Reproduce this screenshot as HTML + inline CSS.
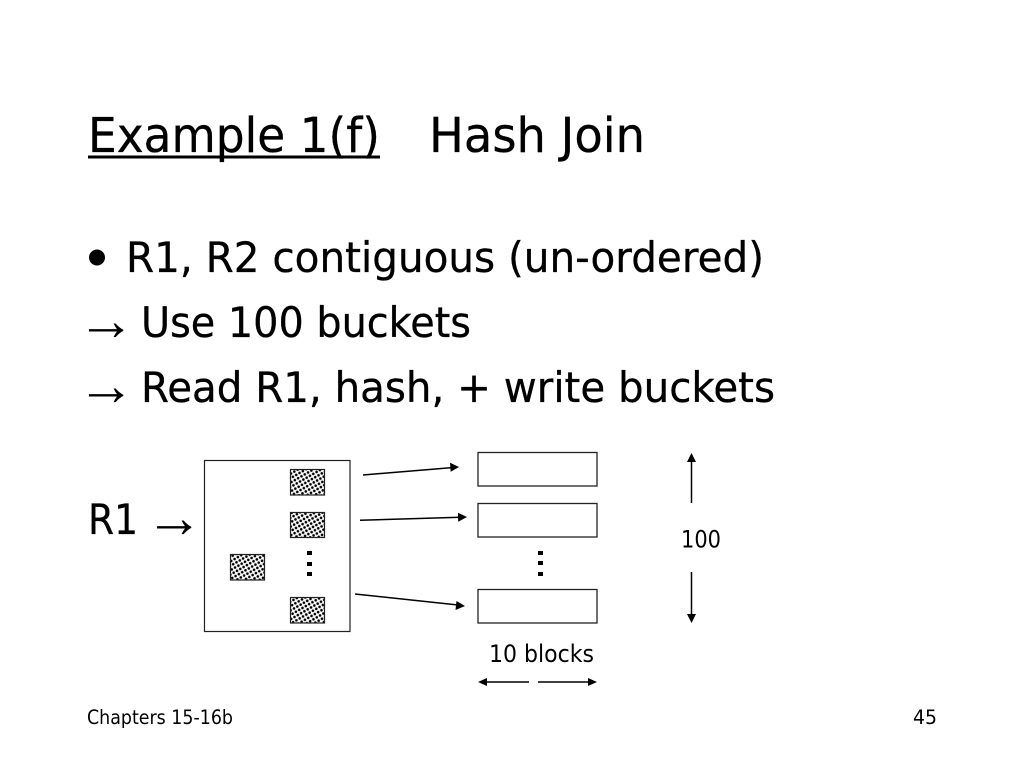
<!DOCTYPE html>
<html>
<head>
<meta charset="utf-8">
<style>
html,body{margin:0;padding:0;background:#fff;width:1024px;height:768px;overflow:hidden}
svg{display:block}
text{font-family:"DejaVu Sans","Liberation Sans",sans-serif;fill:#000}
.big{stroke:#000;stroke-width:.3}
.arr{font-family:"Liberation Serif",serif}
</style>
</head>
<body>
<svg width="1024" height="768" viewBox="0 0 1024 768" xmlns="http://www.w3.org/2000/svg">
<defs>
<pattern id="dots" width="5.4" height="5.4" patternUnits="userSpaceOnUse" patternTransform="rotate(15)">
<rect width="5.4" height="5.4" fill="#fff"/>
<circle cx="1.35" cy="1.35" r="1.3" fill="#000"/>
<circle cx="4.05" cy="4.05" r="1.3" fill="#000"/>
</pattern>
</defs>
<rect width="1024" height="768" fill="#fff"/>

<text class="big" x="88" y="152" font-size="48" textLength="292" lengthAdjust="spacingAndGlyphs">Example 1(f)</text>
<rect x="88" y="155.5" width="292" height="3" fill="#000"/>
<text class="big" x="429" y="152" font-size="48" textLength="216" lengthAdjust="spacingAndGlyphs">Hash Join</text>

<circle cx="97" cy="257.5" r="8" fill="#000"/>
<text class="big" x="126" y="272" font-size="42" textLength="638" lengthAdjust="spacingAndGlyphs">R1, R2 contiguous (un-ordered)</text>
<text class="arr" x="77" y="340" font-size="58" textLength="58" lengthAdjust="spacingAndGlyphs">→</text>
<text class="big" x="141" y="337" font-size="42" textLength="330" lengthAdjust="spacingAndGlyphs">Use 100 buckets</text>
<text class="arr" x="77" y="405" font-size="58" textLength="58" lengthAdjust="spacingAndGlyphs">→</text>
<text class="big" x="141" y="402" font-size="42" textLength="634" lengthAdjust="spacingAndGlyphs">Read R1, hash, + write buckets</text>
<text class="big" x="88" y="534" font-size="42" textLength="50" lengthAdjust="spacingAndGlyphs">R1</text>
<text class="arr" x="145" y="537" font-size="58" textLength="58" lengthAdjust="spacingAndGlyphs">→</text>

<rect x="204.5" y="460.5" width="145.5" height="171" fill="#fff" stroke="#222" stroke-width="1.2"/>

<g fill="url(#dots)" stroke="#222" stroke-width="1.2">
<rect x="290.5" y="469.5" width="34" height="25.5"/>
<rect x="290.5" y="512.5" width="34" height="25"/>
<rect x="290.5" y="597.5" width="34" height="25.5"/>
<rect x="230.5" y="554.5" width="34" height="25.5"/>
</g>

<g fill="#000">
<rect x="307" y="551" width="5" height="4"/>
<rect x="307" y="562" width="5" height="4"/>
<rect x="307" y="572" width="5" height="4"/>
<rect x="538" y="551" width="5" height="4"/>
<rect x="538" y="561" width="5" height="4"/>
<rect x="538" y="572" width="5" height="4"/>
</g>

<g stroke="#000" stroke-width="1.5" fill="none">
<line x1="363" y1="475" x2="452" y2="467.6"/>
<line x1="360" y1="520.3" x2="460" y2="517.3"/>
<line x1="355" y1="594" x2="458" y2="605"/>
<line x1="691.5" y1="460" x2="691.5" y2="503"/>
<line x1="691.5" y1="572" x2="691.5" y2="615"/>
<line x1="485" y1="682" x2="529" y2="682"/>
<line x1="538" y1="682" x2="590" y2="682"/>
</g>
<g fill="#000">
<polygon points="459,467 450,462.8 450.7,471.8"/>
<polygon points="467,517 458,512.8 458.2,521.8"/>
<polygon points="465,606 456.5,601 455.5,610"/>
<polygon points="691.5,453 687,462 696,462"/>
<polygon points="691.5,623 687,614 696,614"/>
<polygon points="478,682 487,678 487,686"/>
<polygon points="597,682 588,678 588,686"/>
</g>

<g fill="#fff" stroke="#222" stroke-width="1.3">
<rect x="478" y="452.5" width="119" height="33.5"/>
<rect x="478" y="503.5" width="119" height="33.5"/>
<rect x="478" y="589.5" width="119" height="33.5"/>
</g>

<text x="681" y="547.5" font-size="24" textLength="40" lengthAdjust="spacingAndGlyphs">100</text>
<text x="489" y="662" font-size="24" textLength="105" lengthAdjust="spacingAndGlyphs">10 blocks</text>

<text x="87" y="724" font-size="19.5" textLength="146" lengthAdjust="spacingAndGlyphs">Chapters 15-16b</text>
<text x="913" y="724" font-size="19.5" textLength="24" lengthAdjust="spacingAndGlyphs">45</text>
</svg>
</body>
</html>
